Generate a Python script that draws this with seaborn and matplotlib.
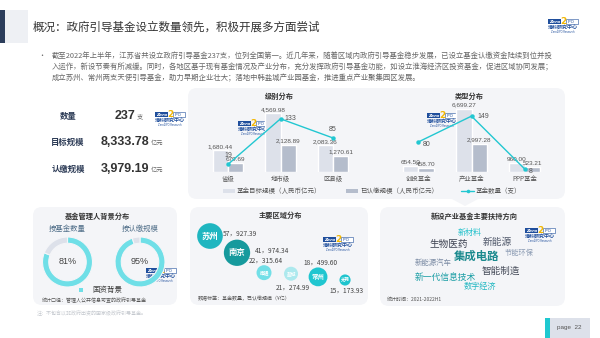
import matplotlib
matplotlib.use('Agg')
import numpy as np
import pandas as pd
import matplotlib.pyplot as plt
import seaborn as sns
from matplotlib.patches import FancyBboxPatch, Rectangle, Polygon
from matplotlib.lines import Line2D

sns.set_theme(style='white')
plt.rcParams['font.family'] = ['Noto Sans CJK SC', 'DejaVu Sans']
plt.rcParams['axes.facecolor'] = 'none'

# ---------------- data ----------------
title = '概况：政府引导基金设立数量领先，积极开展多方面尝试'
para_lines = [
    '截至2022年上半年，江苏省共设立政府引导基金237支，位列全国第一。近几年来，随着区域内政府引导基金稳步发展，已设立基金认缴资金陆续到位并投',
    '入运作，新设节奏有所减缓。同时，各地区基于现有基金情况及产业分布，充分发挥政府引导基金功能，如设立淮海经济区投资基金，促进区域协同发展；',
    '成立苏州、常州两支天使引导基金，助力早期企业壮大；落地中韩盐城产业园基金，推进重点产业聚集园区发展。',
]

stat_labels = ['数量', '目标规模', '认缴规模']
stat_values = ['237', '8,333.78', '3,979.19']
stat_units = ['支', '亿元', '亿元']

level_cats = ['省级', '地市级', '区县级']
level_target = [1680.44, 4569.98, 2083.36]
level_paid = [679.69, 2128.89, 1270.61]
level_count = [19, 133, 85]

type_cats = ['创投基金', '产业基金', 'PPP基金']
type_target = [654.50, 6699.27, 960.00]
type_paid = [458.70, 2997.28, 523.21]
type_count = [80, 149, 8]

series_names = ['基金目标规模（人民币亿元）', '已认缴规模（人民币亿元）', '基金数量（支）']

mgr_titles = ['按基金数量', '按认缴规模']
mgr_state_share = [81, 95]
mgr_legend = '国资背景'

cities = ['苏州', '南京', '南通', '盐城', '常州', '无锡']
city_count = [57, 41, 22, 21, 18, 15]
city_paid = [927.39, 974.34, 315.64, 274.99, 499.60, 173.93]

sectors = ['新材料', '生物医药', '新能源', '节能环保', '集成电路',
           '新能源汽车', '智能制造', '新一代信息技术', '数字经济']

# ---------------- styles / layout ----------------
W, H = 600, 338
PANEL = '#f4f5f8'
C_TARGET = '#dde1ea'
C_PAID = '#b5bdcc'
C_LINE = '#22c7d1'
TXT = '#555555'

city_colors = ['#1fb6c0', '#169a9d', '#72dfe7', '#ade9ee', '#20c6d0', '#1ec4ce']
city_font = [6, 6, 3.4, 3.4, 4.6, 3.2]
city_lab_off = [(9, 1.5, 'left'), (13, 1.5, 'left'), (1, 8.5, 'center'),
                (1.5, -10, 'center'), (1.5, 10, 'center'), (1, -8, 'center')]

# word cloud: (x, y, fontsize, color, bold)
sector_style = [
    (470, 232, 5.8, '#26c2cc', False),
    (449, 244, 6.9, '#3c4150', False),
    (497, 242, 7.0, '#50586a', False),
    (519, 253, 5.2, '#8b9bb3', False),
    (477, 256, 8.2, '#1b8a8e', True),
    (433, 263, 5.3, '#7a8aa3', False),
    (501, 271, 6.9, '#444a58', False),
    (445, 277, 6.3, '#1a9ea5', False),
    (480, 287, 5.9, '#23b8c2', False),
]

fig = plt.figure(figsize=(6, 3.38), dpi=100)
fig.patch.set_facecolor('white')


def px_axes(x0, y0, x1, y1):
    return fig.add_axes([x0 / W, 1 - y1 / H, (x1 - x0) / W, (y1 - y0) / H])


bg = px_axes(0, 0, W, H)
bg.set_xlim(0, W)
bg.set_ylim(H, 0)
bg.axis('off')


def panel(x0, y0, x1, y1, r=9):
    bg.add_patch(FancyBboxPatch((x0 + r, y0 + r), x1 - x0 - 2 * r, y1 - y0 - 2 * r,
                                boxstyle=f'round,pad={r}', fc=PANEL, ec='none'))


def logo(x, y, s=1.0):
    bg.add_patch(Rectangle((x, y), 13 * s, 5 * s, fc='#1f4e9c', ec='none'))
    bg.text(x + 6.5 * s, y + 2.6 * s, 'Zero', color='white', fontsize=3.2 * s,
            fontweight='bold', style='italic', ha='center', va='center', family=['DejaVu Sans'])
    bg.text(x + 15.2 * s, y + 2.8 * s, '2', color='#f2b705', fontsize=6.5 * s,
            fontweight='bold', ha='center', va='center', family=['DejaVu Sans'])
    bg.add_patch(Rectangle((x + 17.5 * s, y + 0.4 * s), 12 * s, 4.3 * s, fc='white', ec='#1f4e9c', lw=0.4))
    bg.text(x + 23.5 * s, y + 2.6 * s, 'IPO', color='#1f4e9c', fontsize=3.0 * s,
            ha='center', va='center', family=['DejaVu Sans'])
    bg.text(x + 14.5 * s, y + 9 * s, '清科研究中心', color='#1f4e9c', fontsize=3.6 * s,
            fontweight='bold', ha='center', va='center')
    bg.text(x + 14.5 * s, y + 12.8 * s, 'Zero2IPO Research', color='#1f4e9c', fontsize=1.8 * s,
            ha='center', va='center', family=['DejaVu Sans'])


# ---------------- header ----------------
bg.add_patch(Rectangle((0, 10), 5, 33, fc='#2c3d5b', ec='none'))
bg.add_patch(Rectangle((5, 10), 23, 33, fc='#eef0f4', ec='none'))
bg.text(33, 27, title, fontsize=8.3, color='#333333', va='center')
logo(548, 19)

bg.text(42, 55.5, '•', fontsize=5, color='#666666', va='center', ha='center')
for i, line in enumerate(para_lines):
    bg.text(52, 55.5 + 11.5 * i, line, fontsize=5.3, color='#666666', va='center')

# ---------------- key numbers ----------------
for i, (lab, val, unit) in enumerate(zip(stat_labels, stat_values, stat_units)):
    y = [116, 142, 169][i]
    bg.text(68, y, lab, fontsize=6, color='#2b3a55', fontweight='bold', ha='center', va='center')
    t = bg.text(125, y, val, fontsize=9, color='#333333', fontweight='bold', ha='center', va='center',
                family=['Liberation Sans'])
    bg.annotate(unit, xy=(1, 0.1), xycoords=t, xytext=(1, 0), textcoords='offset points',
                fontsize=4.5, color='#666666', va='bottom', ha='left')
logo(155, 112)

# ---------------- bar + line charts ----------------
panel(188, 88, 565, 199)
bg.add_patch(Polygon([(450, 198), (480, 198), (465, 206)], fc=PANEL, ec='none'))


def combo(x0, x1, cats, target, paid, count, ymax, cmax, ttl, tx, offs):
    ax = px_axes(x0, 100, x1, 172)
    df = pd.DataFrame({'cat': cats * 2,
                       'kind': ['target'] * len(cats) + ['paid'] * len(cats),
                       'val': target + paid})
    sns.barplot(data=df, x='cat', y='val', hue='kind', palette={'target': C_TARGET, 'paid': C_PAID},
                width=0.58, saturation=1, legend=False, ax=ax)
    ax.set_xlim(-0.55, 2.55)
    ax.set_ylim(0, ymax)
    for cont in ax.containers:
        ax.bar_label(cont, fmt='{:,.2f}', fontsize=4.6, color=TXT, padding=0.8,
                     family=['Liberation Sans'])
    ax.set_xlabel('')
    ax.set_ylabel('')
    ax.set_yticks([])
    ax.tick_params(axis='x', length=0, pad=2, labelsize=4.6, labelcolor=TXT)
    sns.despine(ax=ax, left=True, bottom=True)

    ax2 = ax.twinx()
    sns.lineplot(x=list(range(len(cats))), y=count, ax=ax2, color=C_LINE, lw=1.0,
                 marker='o', markersize=3.2, markeredgewidth=0)
    ax2.set_ylim(0, cmax)
    ax2.set_yticks([])
    ax2.set_ylabel('')
    sns.despine(ax=ax2, left=True, bottom=True, right=True)
    for i, v in enumerate(count):
        dx, dy, ha = offs[i]
        ax2.annotate(str(v), xy=(i, v), xytext=(dx, dy), textcoords='offset points',
                     fontsize=5, color=TXT, ha=ha, va='center', family=['Liberation Sans'],
                     annotation_clip=False)
    bg.text(tx, 96, ttl, fontsize=5.2, color='#333333', fontweight='bold', ha='center', va='center')


combo(199, 362, level_cats, level_target, level_paid, level_count, 5616, 180, '级别分布', 279,
      [(0, 6.5, 'center'), (3, 0, 'left'), (0, 6, 'center')])
combo(389, 554, type_cats, type_target, type_paid, type_count, 7640, 192, '类型分布', 469,
      [(3, -2, 'left'), (4, 0, 'left'), (3, -1.5, 'left')])
logo(238, 121)
logo(427, 113)

# shared legend
LY = 191
bg.add_patch(Rectangle((223, LY - 2), 12, 4, fc=C_TARGET, ec='none'))
bg.text(237, LY, series_names[0], fontsize=4.7, color=TXT, va='center')
bg.add_patch(Rectangle((346, LY - 2), 12, 4, fc=C_PAID, ec='none'))
bg.text(360, LY, series_names[1], fontsize=4.7, color=TXT, va='center')
bg.add_line(Line2D([461, 474], [LY, LY], color=C_LINE, lw=1.0))
bg.plot([467.5], [LY], 'o', color=C_LINE, ms=2.6, mew=0)
bg.text(476, LY, series_names[2], fontsize=4.7, color=TXT, va='center')

# ---------------- manager background donuts ----------------
panel(33, 207, 177, 305)
bg.text(97, 216, '基金管理人背景分布', fontsize=5.2, color='#333333', fontweight='bold', ha='center', va='center')
for i, (ttl, share) in enumerate(zip(mgr_titles, mgr_state_share)):
    cx, cy = [67.5, 140][i], 262
    bg.text(cx, 229, ttl, fontsize=5.3, color='#52708a', ha='center', va='center')
    ax = px_axes(cx - 25, cy - 25, cx + 25, cy + 25)
    ax.pie([share, 100 - share], colors=['#6fdfe7', C_TARGET], startangle=90, counterclock=False,
           wedgeprops=dict(width=0.25, edgecolor=PANEL, linewidth=0.8))
    ax.set_xlim(-1.0, 1.0)
    ax.set_ylim(-1.0, 1.0)
    ax.set_aspect('equal')
    ax.text(0, 0, f'{share}%', fontsize=6.5, color='#444444', ha='center', va='center',
            family=['Liberation Sans'])
bg.add_patch(Rectangle((79, 288), 4, 4, fc='#6fdfe7', ec='none'))
bg.text(92, 290, mgr_legend, fontsize=5.4, color='#444444', va='center')
bg.text(42, 299, '统计口径：管理人公开信息可查的政府引导基金', fontsize=3.6, color=TXT, va='center')
bg.text(37, 312, '注：不包含以非政府出资的国家级政府引导基金。', fontsize=3.6, color='#c4c8ce', va='center')
logo(146, 268)

# ---------------- regional bubbles ----------------
panel(190, 207, 368, 305)
bg.text(280, 215, '主要区域分布', fontsize=5.2, color='#333333', fontweight='bold', ha='center', va='center')
ax = px_axes(190, 220, 368, 300)
bdf = pd.DataFrame({'city': cities, 'rank': range(len(cities)), 'n': city_count, 'amt': city_paid})
sns.scatterplot(data=bdf, x='rank', y='n', hue='city', palette=dict(zip(cities, city_colors)),
                size='amt', sizes=(0, 368), size_norm=(0, 1000), legend=False, linewidth=0, ax=ax)
ax.set_xlim(-0.74, 5.85)
ax.set_ylim(-4.1, 72.3)
ax.axis('off')
for i, row in bdf.iterrows():
    ax.text(row['rank'], row['n'], row['city'], fontsize=city_font[i], color='white',
            fontweight='bold', ha='center', va='center')
    dx, dy, ha = city_lab_off[i]
    ax.annotate(f"{row['n']}，{row['amt']:.2f}", xy=(row['rank'], row['n']), xytext=(dx, dy),
                textcoords='offset points', fontsize=4.8, color='#444444', ha=ha, va='center',
                annotation_clip=False)
bg.text(198, 299, '数据标签：基金数量，已认缴规模（¥亿）', fontsize=3.6, color=TXT, va='center')
logo(323, 237)

# ---------------- sector word cloud ----------------
panel(380, 207, 565, 306)
bg.text(474, 216, '新设产业基金主要扶持方向', fontsize=5.2, color='#333333', fontweight='bold',
        ha='center', va='center')
for word, (x, y, fs, col, bold) in zip(sectors, sector_style):
    bg.text(x, y, word, fontsize=fs, color=col, fontweight='bold' if bold else 'normal',
            ha='center', va='center')
bg.text(387, 299, '统计时间：2021-2022H1', fontsize=3.6, color=TXT, va='center')
logo(525, 228)

# ---------------- page tag ----------------
bg.add_patch(Rectangle((545, 318), 5, 20, fc='#1fc8d0', ec='none'))
bg.add_patch(Rectangle((550, 318), 40, 20, fc='#dde1ea', ec='none'))
bg.text(569, 328, 'page  22', fontsize=4.5, color=TXT, ha='center', va='center', family=['Liberation Sans'])

fig.savefig('out.png', dpi=100, facecolor='white')
